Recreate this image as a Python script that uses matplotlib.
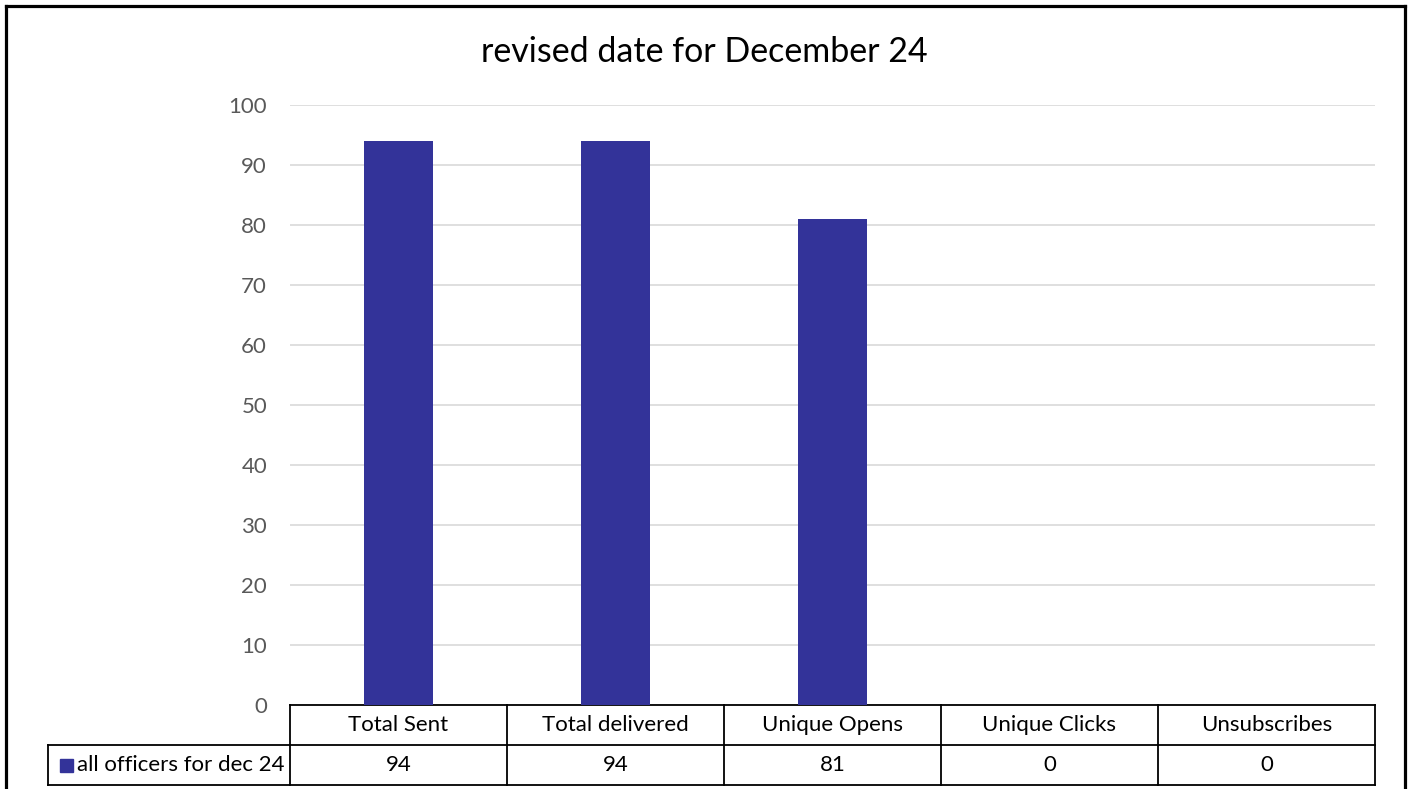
import matplotlib
matplotlib.use("Agg")
import matplotlib.pyplot as plt
from matplotlib.lines import Line2D
from matplotlib.patches import Rectangle

categories = ["Total Sent", "Total delivered", "Unique Opens", "Unique Clicks", "Unsubscribes"]
values = [94, 94, 81, 0, 0]
series_name = "all officers for dec 24"
title = "revised date for December 24"
yticks = list(range(0, 101, 10))

plt.rcParams['font.family'] = ['Lato', 'DejaVu Sans']

W, H = 1408, 789
fig = plt.figure(figsize=(W / 100, H / 100), dpi=100)
fig.patch.set_facecolor("white")

FS = 16

# outer frame (bottom edge lies beyond the image)
fx0, fx1, fy0 = 6 / W, 1404.5 / W, (H - 6) / H
for xs, ys in [([fx0, fx0], [-0.01, fy0]), ([fx0, fx1], [fy0, fy0]), ([fx1, fx1], [fy0, -0.01])]:
    fig.add_artist(Line2D(xs, ys, transform=fig.transFigure, color="black", lw=2.3,
                          solid_capstyle="projecting"))

L, R, T, B = 290, 1375, 105, 705
ax = fig.add_axes([L / W, (H - B) / H, (R - L) / W, (B - T) / H])
x = list(range(len(categories)))
color = "#333399"
ax.bar(x, values, width=0.315, color=color, zorder=3)
ax.set_xlim(-0.5, len(categories) - 0.5)
ax.set_ylim(0, 100)
ax.set_yticks(yticks)
ax.set_yticklabels([str(t) for t in yticks], color="#595959", fontsize=FS)
ax.tick_params(axis="y", length=0, pad=16.5)
ax.tick_params(axis="x", length=0, labelbottom=False)
ax.grid(axis="y", color="#d9d9d9", linewidth=1.2, zorder=0)
for s in ax.spines.values():
    s.set_visible(False)

fig.text(0.5, (H - 52) / H, title, ha="center", va="center", fontsize=24.5, color="black")

# data table below axes
ph = B - T
row_h = 40 / ph
left_cell = (48 - L) / (R - L)
lw = 1.3
tr = ax.transAxes
n = len(categories)

def hline(x0, x1, y):
    ax.add_line(Line2D([x0, x1], [y, y], transform=tr, color="black", lw=lw, clip_on=False,
                       solid_capstyle="projecting"))

def vline(xx, y0, y1):
    ax.add_line(Line2D([xx, xx], [y0, y1], transform=tr, color="black", lw=lw, clip_on=False,
                       solid_capstyle="projecting"))

hline(0, 1, 0)
hline(left_cell, 1, -row_h)
hline(left_cell, 1, -2 * row_h)
vline(left_cell, -row_h, -2 * row_h)
for i in range(n + 1):
    vline(i / n, 0, -2 * row_h)

for i, (c, v) in enumerate(zip(categories, values)):
    xc = (i + 0.5) / n
    ax.text(xc, -row_h / 2, c, transform=tr, ha="center", va="center", fontsize=FS, color="black")
    ax.text(xc, -1.5 * row_h, str(v), transform=tr, ha="center", va="center", fontsize=FS, color="black")

# legend key and series name
key_x = (60 - L) / (R - L)
ax.add_patch(Rectangle((key_x, -1.5 * row_h - 6.5 / ph), 13 / (R - L), 13 / ph, transform=tr,
                       color=color, clip_on=False))
ax.text((77 - L) / (R - L), -1.5 * row_h, series_name, transform=tr, ha="left", va="center",
        fontsize=FS, color="black")

fig.savefig("out.png", dpi=100)
